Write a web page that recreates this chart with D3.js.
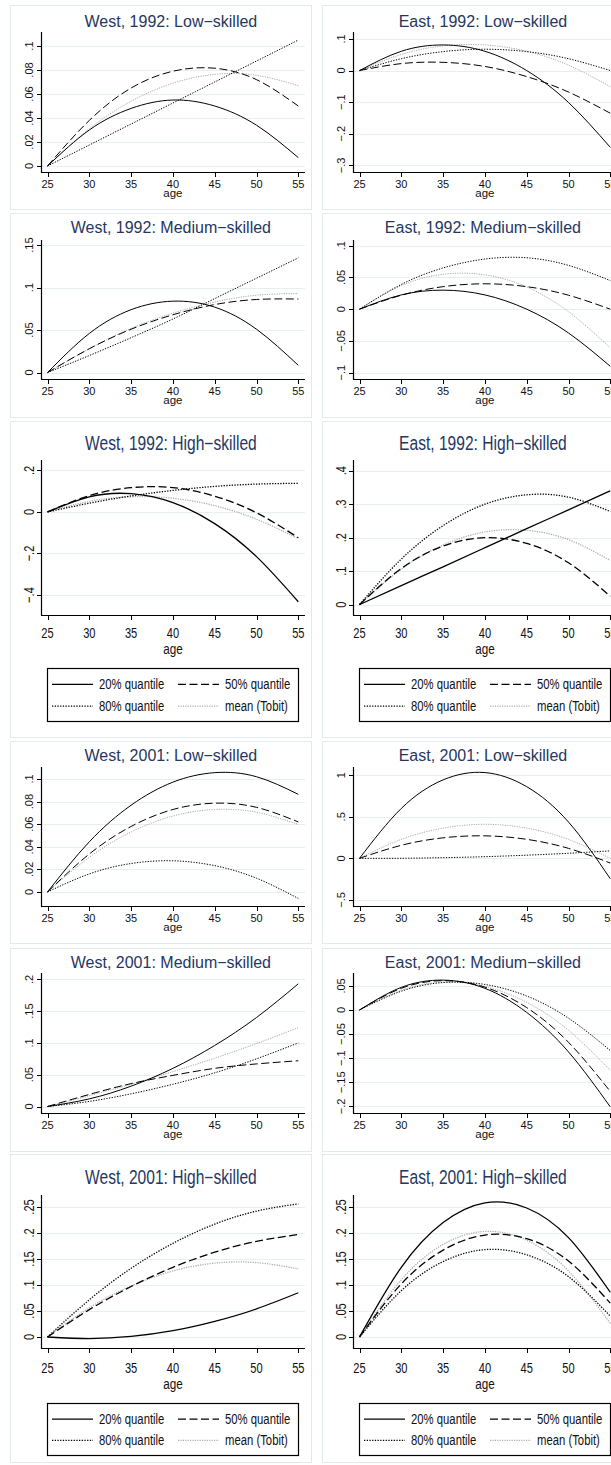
<!DOCTYPE html>
<html lang="en">
<head>
<meta charset="UTF-8">
<title>Age profiles by quantile</title>
<script src="https://d3js.org/d3.v7.min.js"></script>
<style>
  body { margin: 0; background: #fff; }
  svg { display: block; font-family: "Liberation Sans", Arial, sans-serif; }
</style>
</head>
<body>
<script>
const ages = [25, 30, 35, 40, 45, 50, 55];
const xTicks = [25, 30, 35, 40, 45, 50, 55];
const seriesNames = ["20% quantile", "50% quantile", "80% quantile", "mean (Tobit)"];

const titles = [
  ["West, 1992: Low\u2212skilled", "East, 1992: Low\u2212skilled"],
  ["West, 1992: Medium\u2212skilled", "East, 1992: Medium\u2212skilled"],
  ["West, 1992: High\u2212skilled", "East, 1992: High\u2212skilled"],
  ["West, 2001: Low\u2212skilled", "East, 2001: Low\u2212skilled"],
  ["West, 2001: Medium\u2212skilled", "East, 2001: Medium\u2212skilled"],
  ["West, 2001: High\u2212skilled", "East, 2001: High\u2212skilled"]
];

// series order: 20%, 50%, 80%, mean (Tobit)
const w92Low = [
  [0, .030, .048, .055, .050, .034, .007],
  [0, .038, .065, .079, .0815, .072, .050],
  [0, .0175, .035, .0525, .070, .0875, .105],
  [0, .031, .054, .069, .0764, .0756, .067]];
const e92Low = [
  [0, .061, .081, .061, 0, -.101, -.243],
  [0, .022, .026, .013, -.019, -.068, -.135],
  [0, .0375, .060, .0675, .060, .0375, 0],
  [0, .051, .078, .081, .061, .017, -.051]];
const w92Med = [
  [0, .046, .074, .084, .077, .051, .0085],
  [0, .028, .051, .068, .080, .086, .0865],
  [0, .020, .041, .063, .087, .111, .135],
  [0, .028, .052, .070, .083, .091, .093]];
const e92Med = [
  [0, .0225, .030, .0225, 0, -.0375, -.090],
  [0, .022, .0355, .040, .0355, .022, 0],
  [0, .039, .065, .079, .081, .069, .045],
  [0, .037, .055, .054, .035, -.004, -.061]];
const w92High = [
  [0, .073, .088, .045, -.056, -.215, -.432],
  [0, .0785, .117, .117, .076, -.004, -.124],
  [0, .042, .077, .1035, .123, .134, .138],
  [0, .051, .073, .066, .030, -.035, -.129]];
const e92High = [
  [0, .057, .113, .170, .227, .283, .340],
  [0, .108, .175, .200, .183, .125, .025],
  [0, .136, .236, .300, .328, .321, .278],
  [0, .106, .178, .217, .222, .194, .132]];
const w01Low = [
  [0, .0444, .0768, .0972, .1056, .102, .0864],
  [0, .0336, .058, .073, .0786, .0749, .062],
  [0, .016, .0252, .0276, .0233, .0122, -.0057],
  [0, .0307, .0531, .0672, .073, .0705, .0597]];
const e01Low = [
  [0, .601, .945, 1.033, .863, .437, -.246],
  [0, .157, .247, .271, .229, .120, -.056],
  [0, .001, .008, .020, .038, .061, .090],
  [0, .228, .364, .410, .364, .228, 0]];
const w01Med = [
  [0, .012, .032, .060, .096, .140, .193],
  [0, .019, .036, .049, .060, .067, .072],
  [0, .008, .020, .035, .053, .075, .100],
  [0, .017, .035, .055, .076, .099, .124]];
const e01Med = [
  [0, .047, .062, .045, -.005, -.087, -.201],
  [0, .045, .061, .0475, .005, -.067, -.169],
  [0, .039, .057, .053, .029, -.017, -.084],
  [0, .041, .058, .049, .016, -.042, -.125]];
const w01High = [
  [0, -.003, .001, .012, .030, .054, .085],
  [0, .0525, .097, .134, .163, .184, .197],
  [0, .0715, .132, .180, .217, .242, .256],
  [0, .056, .098, .127, .142, .143, .131]];
const e01High = [
  [0, .134, .220, .258, .248, .191, .086],
  [0, .102, .167, .196, .189, .146, .065],
  [0, .089, .145, .168, .158, .116, .040],
  [0, .110, .178, .203, .186, .127, .026]];

// y axis ticks and axis ranges per panel
const w92LowTicks = [0, .02, .04, .06, .08, .1];
const e92LowTicks = [-.3, -.2, -.1, 0, .1];
const w92MedTicks = [0, .05, .1, .15];
const e92MedTicks = [-.1, -.05, 0, .05, .1];
const w92HighTicks = [-.4, -.2, 0, .2];
const e92HighTicks = [0, .1, .2, .3, .4];
const w01LowTicks = [0, .02, .04, .06, .08, .1];
const e01LowTicks = [-.5, 0, .5, 1];
const w01MedTicks = [0, .05, .1, .15, .2];
const e01MedTicks = [-.2, -.15, -.1, -.05, 0, .05];
const w01HighTicks = [0, .05, .1, .15, .2, .25];
const e01HighTicks = [0, .05, .1, .15, .2, .25];

const w92LowRange = [-.005, .1117];
const e92LowRange = [-.321, .122];
const w92MedRange = [-.0076, .156];
const e92MedRange = [-.110, .109];
const w92HighRange = [-.496, .25];
const e92HighRange = [-.031, .432];
const w01LowRange = [-.0124, .1106];
const e01LowRange = [-.574, 1.10];
const w01MedRange = [-.0102, .21];
const e01MedRange = [-.2137, .0768];
const w01HighRange = [-.0212, .273];
const e01HighRange = [-.0212, .273];

const panelData = [
  [[w92Low, w92LowTicks, w92LowRange], [e92Low, e92LowTicks, e92LowRange]],
  [[w92Med, w92MedTicks, w92MedRange], [e92Med, e92MedTicks, e92MedRange]],
  [[w92High, w92HighTicks, w92HighRange], [e92High, e92HighTicks, e92HighRange]],
  [[w01Low, w01LowTicks, w01LowRange], [e01Low, e01LowTicks, e01LowRange]],
  [[w01Med, w01MedTicks, w01MedRange], [e01Med, e01MedTicks, e01MedRange]],
  [[w01High, w01HighTicks, w01HighRange], [e01High, e01HighTicks, e01HighRange]]
];

// layout of each row (left column; right column is shifted)
const rows = [
  { box: [5, 209], title: 21, top: 32, bottom: 172, high: false },
  { box: [213, 417], title: 227, top: 240, bottom: 379, high: false },
  { box: [421, 737], title: 443, top: 460, bottom: 615, high: true, legend: [668, 721], tickOff: 23, ageOff: 38.5 },
  { box: [741, 943], title: 755, top: 767, bottom: 906, high: false },
  { box: [948, 1151], title: 962, top: 973, bottom: 1113, high: false },
  { box: [1154, 1462], title: 1177, top: 1195, bottom: 1348, high: true, legend: [1403, 1455], tickOff: 25, ageOff: 40.5 }
];
const colShift = 312;

const styles = [
  { color: "#000", dash: null },
  { color: "#000", dash: "8,3.5" },
  { color: "#000", dash: "1.3,1.4" },
  { color: "#ababab", dash: "1.2,1.2" }
];

const fmt = v => {
  if (v === 0) return "0";
  const s = String(+Math.abs(v).toFixed(3)).replace(/^0/, "");
  return (v < 0 ? "\u2212" : "") + s;
};

const svg = d3.select("body").append("svg")
  .attr("width", 611)
  .attr("height", 1465);

function label(g, x, y, txt, size, opts) {
  opts = opts || {};
  const sx = opts.sx || 1;
  let tr = `translate(${x},${y})`;
  if (opts.rotate) tr += " rotate(-90)";
  tr += ` scale(${sx},1)`;
  return g.append("text")
    .attr("transform", tr)
    .attr("text-anchor", opts.anchor || "middle")
    .attr("font-size", size)
    .attr("fill", opts.fill || "#111")
    .text(txt);
}

rows.forEach((row, ri) => {
  [0, 1].forEach(ci => {
    const off = ci * colShift;
    const [data, ticks, range] = panelData[ri][ci];
    const g = svg.append("g");

    g.append("rect")
      .attr("x", 10.5 + off).attr("y", row.box[0] + 0.5)
      .attr("width", 301).attr("height", row.box[1] - row.box[0])
      .attr("fill", "#fff")
      .attr("stroke", "#e2eaee");

    const x = d3.scaleLinear().domain([25, 55]).range([47.5 + off, 298.3 + off]);
    const y = d3.scaleLinear().domain(range).range([row.bottom, row.top]);
    const axX = 41 + off;
    const right = 305 + off;

    // grid
    g.selectAll(".grid").data(ticks).enter().append("line")
      .attr("x1", axX).attr("x2", right)
      .attr("y1", d => Math.round(y(d)) + 0.5).attr("y2", d => Math.round(y(d)) + 0.5)
      .attr("stroke", "#e6eef1").attr("stroke-width", 1);

    // curves
    const line = d3.line().x((d, i) => x(ages[i])).y(d => y(d)).curve(d3.curveNatural);
    [3, 2, 1, 0].forEach(si => {
      g.append("path")
        .attr("d", line(data[si]))
        .attr("fill", "none")
        .attr("stroke", styles[si].color)
        .attr("stroke-width", row.high ? 1.3 : 1)
        .attr("stroke-dasharray", styles[si].dash);
    });

    // axes
    g.append("line").attr("x1", axX + 0.5).attr("x2", axX + 0.5)
      .attr("y1", row.top).attr("y2", row.bottom + 0.5)
      .attr("stroke", "#000").attr("stroke-width", 1.2);
    g.append("line").attr("x1", axX).attr("x2", right)
      .attr("y1", row.bottom + 0.5).attr("y2", row.bottom + 0.5)
      .attr("stroke", "#000").attr("stroke-width", 1.2);

    const tickSize = row.high ? 15 : 11;
    const tickSx = row.high ? 0.74 : 1;
    ticks.forEach(t => {
      const yy = Math.round(y(t)) + 0.5;
      g.append("line").attr("x1", axX - 4).attr("x2", axX)
        .attr("y1", yy).attr("y2", yy).attr("stroke", "#000");
      label(g, axX - (row.high ? 7 : 8), y(t), fmt(t), tickSize, { rotate: true, sx: tickSx });
    });
    xTicks.forEach(t => {
      const xx = Math.round(x(t)) + 0.5;
      g.append("line").attr("x1", xx).attr("x2", xx)
        .attr("y1", row.bottom).attr("y2", row.bottom + 5).attr("stroke", "#000");
      label(g, x(t), row.bottom + (row.high ? row.tickOff : 15.5), String(t), tickSize, { sx: tickSx });
    });
    label(g, x(40), row.bottom + (row.high ? row.ageOff : 25), "age", row.high ? 15 : 11.5, { sx: row.high ? 0.78 : 1 });

    // title
    label(g, x(40) - 2, row.title + (row.high ? 7 : 5.7), titles[ri][ci], row.high ? 19.5 : 16,
      { sx: row.high ? 0.8 : 1, fill: "#26375f" });

    // legend
    if (row.legend) {
      const [ly0, ly1] = row.legend;
      g.append("rect")
        .attr("x", 47.5 + off).attr("y", ly0 + 0.5)
        .attr("width", 251).attr("height", ly1 - ly0)
        .attr("fill", "#fff").attr("stroke", "#000").attr("stroke-width", 1.2);
      const rowY = [ly0 + (ly1 - ly0) * 0.31, ly0 + (ly1 - ly0) * 0.72];
      seriesNames.forEach((name, si) => {
        const cx = si % 2 === 0 ? 52 : 178;
        const yy = rowY[Math.floor(si / 2)];
        g.append("line")
          .attr("x1", cx + off).attr("x2", cx + 41 + off)
          .attr("y1", yy).attr("y2", yy)
          .attr("stroke", styles[si].color)
          .attr("stroke-width", 1.3)
          .attr("stroke-dasharray", styles[si].dash);
        label(g, cx + 47 + off, yy + 5, name, 14.5, { sx: 0.78, anchor: "start" });
      });
    }
  });
});
</script>
</body>
</html>
